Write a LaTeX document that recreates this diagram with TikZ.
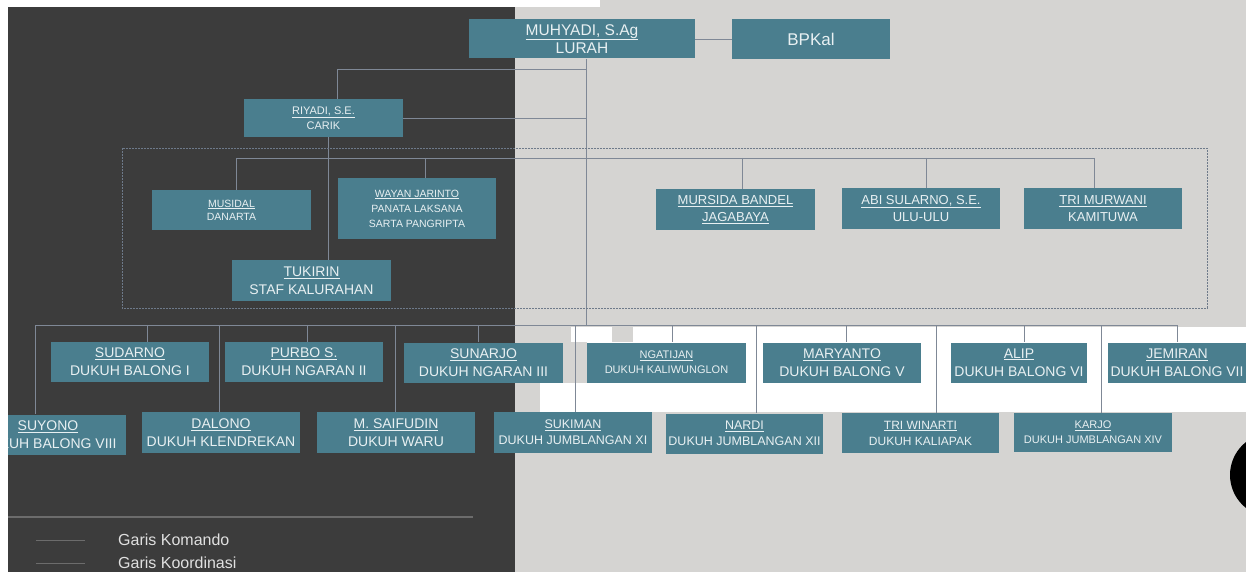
\documentclass[tikz,border=0pt]{standalone}
\usepackage{fontspec}
\setmainfont{Liberation Sans}
\usepackage{tikz}

\definecolor{latargelap}{HTML}{3C3C3C}
\definecolor{latarterang}{HTML}{D5D4D2}
\definecolor{kotak}{HTML}{4A7E8E}
\definecolor{tulisan}{HTML}{E8F0F2}
\definecolor{abugaris}{HTML}{7F8896}
\definecolor{abubingkai}{HTML}{6E7A8A}
\definecolor{abulegenda}{HTML}{6C6C6C}

\begin{document}
\begin{tikzpicture}
[every node/.style={inner sep=0pt},
 jabatan/.style={rectangle, fill=kotak, text=tulisan, align=center},
 garis/.style={line width=0.8pt, color=abugaris},
 bingkai/.style={line width=0.8pt, color=abubingkai, dash pattern=on 2pt off 1pt},
 legenda/.style={anchor=west, text=white!88!black, font=\fontsize{16}{18}\selectfont}]
\useasboundingbox (0pt, 0pt) rectangle (1246pt, -572pt);
% latar
\fill [latarterang] (0pt, 0pt) rectangle (1246pt, -572pt);
\fill [latargelap] (8pt, -7pt) rectangle (515pt, -572pt);
\fill [white] (571pt, -327pt) rectangle (612pt, -342pt);
\fill [white] (633pt, -327pt) rectangle (1246pt, -342pt);
\fill [white] (587pt, -342pt) rectangle (1246pt, -383pt);
\fill [white] (540pt, -383pt) rectangle (1246pt, -412pt);
\fill [black] (1272pt, -475pt) circle (42pt);
% pimpinan
\node (lurah) [jabatan, minimum width=226pt, minimum height=39pt, font=\fontsize{15.5}{18.5}\selectfont] at (582pt, -39pt) {\underline{MUHYADI, S.Ag}\\LURAH};
\node (bpkal) [jabatan, minimum width=158pt, minimum height=40pt, font=\fontsize{17}{19}\selectfont] at (811pt, -39pt) {BPKal};
\node (carik) [jabatan, minimum width=159pt, minimum height=38pt, font=\fontsize{11}{15}\selectfont] at (323.5pt, -118pt) {\underline{RIYADI, S.E.}\\CARIK};
% staf carik
\node (danarta) [jabatan, minimum width=159pt, minimum height=40pt, font=\fontsize{10.5}{13}\selectfont] at (231.5pt, -210pt) {\underline{MUSIDAL}\\DANARTA};
\node (panata) [jabatan, minimum width=158pt, minimum height=61pt, font=\fontsize{10.5}{15}\selectfont] at (417pt, -208.5pt) {\underline{WAYAN JARINTO}\\PANATA LAKSANA\\SARTA PANGRIPTA};
\node (staf) [jabatan, minimum width=159pt, minimum height=41pt, font=\fontsize{14}{18}\selectfont] at (311.5pt, -280.5pt) {\underline{TUKIRIN}\\STAF KALURAHAN};
\node (jagabaya) [jabatan, minimum width=159pt, minimum height=41pt, font=\fontsize{13}{17}\selectfont] at (735.5pt, -209.5pt) {\underline{MURSIDA BANDEL}\\\underline{JAGABAYA}};
\node (ulu) [jabatan, minimum width=158pt, minimum height=41pt, font=\fontsize{13}{17}\selectfont] at (921pt, -208.5pt) {\underline{ABI SULARNO, S.E.}\\ULU-ULU};
\node (kamituwa) [jabatan, minimum width=158pt, minimum height=41pt, font=\fontsize{13}{17}\selectfont] at (1103pt, -208.5pt) {\underline{TRI MURWANI}\\KAMITUWA};
% dukuh baris 1
\node (balong1) [jabatan, minimum width=158pt, minimum height=40pt, font=\fontsize{14}{18}\selectfont] at (130pt, -362pt) {\underline{SUDARNO}\\DUKUH BALONG I};
\node (ngaran2) [jabatan, minimum width=158pt, minimum height=40pt, font=\fontsize{14}{18}\selectfont] at (304pt, -362pt) {\underline{PURBO S.}\\DUKUH NGARAN II};
\node (ngaran3) [jabatan, minimum width=159pt, minimum height=40pt, font=\fontsize{14}{18}\selectfont] at (483.5pt, -362.5pt) {\underline{SUNARJO}\\DUKUH NGARAN III};
\node (kaliwunglon) [jabatan, minimum width=159pt, minimum height=40pt, font=\fontsize{11}{15}\selectfont] at (666.5pt, -362.5pt) {\underline{NGATIJAN}\\DUKUH KALIWUNGLON};
\node (balong5) [jabatan, minimum width=158pt, minimum height=40pt, font=\fontsize{14}{18}\selectfont] at (842pt, -362.5pt) {\underline{MARYANTO}\\DUKUH BALONG V};
\node (balong6) [jabatan, minimum width=136pt, minimum height=40pt, font=\fontsize{14}{18}\selectfont] at (1019pt, -362.5pt) {\underline{ALIP}\\DUKUH BALONG VI};
\node (balong7) [jabatan, minimum width=138pt, minimum height=40pt, font=\fontsize{14}{18}\selectfont] at (1177pt, -362.5pt) {\underline{JEMIRAN}\\DUKUH BALONG VII};
% dukuh baris 2
\node (balong8) [jabatan, minimum width=156pt, minimum height=40pt, font=\fontsize{14}{18}\selectfont] at (48pt, -434.5pt) {\underline{SUYONO}\\DUKUH BALONG VIII};
\node (klendrekan) [jabatan, minimum width=158pt, minimum height=41pt, font=\fontsize{14}{18}\selectfont] at (221pt, -432.5pt) {\underline{DALONO}\\DUKUH KLENDREKAN};
\node (waru) [jabatan, minimum width=158pt, minimum height=41pt, font=\fontsize{14}{18}\selectfont] at (396pt, -432.5pt) {\underline{M. SAIFUDIN}\\DUKUH WARU};
\node (jumblangan11) [jabatan, minimum width=158pt, minimum height=41pt, font=\fontsize{12.5}{16}\selectfont] at (573pt, -432.5pt) {\underline{SUKIMAN}\\DUKUH JUMBLANGAN XI};
\node (jumblangan12) [jabatan, minimum width=157pt, minimum height=40pt, font=\fontsize{12.5}{16}\selectfont] at (744.5pt, -433.5pt) {\underline{NARDI}\\DUKUH JUMBLANGAN XII};
\node (kaliapak) [jabatan, minimum width=157pt, minimum height=40pt, font=\fontsize{12}{16}\selectfont] at (920.5pt, -433pt) {\underline{TRI WINARTI}\\DUKUH KALIAPAK};
\node (jumblangan14) [jabatan, minimum width=158pt, minimum height=39pt, font=\fontsize{11}{15}\selectfont] at (1093pt, -432.5pt) {\underline{KARJO}\\DUKUH JUMBLANGAN XIV};
% titik bantu
\coordinate (cabang) at (337pt, -69pt);
\coordinate (bus) at (586pt, -325pt);
\coordinate (busstaf) at (586pt, -158pt);
% garis komando
\draw [garis] (lurah.east) -- (bpkal.west);
\draw [garis] (lurah.south -| bus) -- (bus);
\draw [garis] (cabang -| bus) -- (cabang) -- (cabang |- carik.north);
\draw [garis] (carik.east) -- (carik.east -| bus);
\draw [garis] ([xshift=5pt]carik.south) -- ([xshift=5pt]carik.south |- staf.north);
\draw [garis] ([xshift=5pt]danarta.north |- busstaf) -- ([xshift=-9pt]kamituwa.north |- busstaf);
\draw [garis] ([xshift=5pt]danarta.north |- busstaf) -- ([xshift=5pt]danarta.north);
\draw [garis] ([xshift=8pt]panata.north |- busstaf) -- ([xshift=8pt]panata.north);
\draw [garis] ([xshift=7pt]jagabaya.north |- busstaf) -- ([xshift=7pt]jagabaya.north);
\draw [garis] ([xshift=5pt]ulu.north |- busstaf) -- ([xshift=5pt]ulu.north);
\draw [garis] ([xshift=-9pt]kamituwa.north |- busstaf) -- ([xshift=-9pt]kamituwa.north);
\draw [bingkai] (122pt, -148pt) rectangle (1207pt, -308pt);
\draw [garis] ([xshift=-13pt]balong8.north |- bus) -- (balong7.north |- bus);
\draw [garis] ([xshift=17pt]balong1.north |- bus) -- ([xshift=17pt]balong1.north);
\draw [garis] ([xshift=3pt]ngaran2.north |- bus) -- ([xshift=3pt]ngaran2.north);
\draw [garis] ([xshift=-5pt]ngaran3.north |- bus) -- ([xshift=-5pt]ngaran3.north);
\draw [garis] ([xshift=6pt]kaliwunglon.north |- bus) -- ([xshift=6pt]kaliwunglon.north);
\draw [garis] ([xshift=4pt]balong5.north |- bus) -- ([xshift=4pt]balong5.north);
\draw [garis] ([xshift=5pt]balong6.north |- bus) -- ([xshift=5pt]balong6.north);
\draw [garis] (balong7.north |- bus) -- (balong7.north);
\draw [garis] ([xshift=-13pt]balong8.north |- bus) -- ([xshift=-13pt]balong8.north);
\draw [garis] ([xshift=-2pt]klendrekan.north |- bus) -- ([xshift=-2pt]klendrekan.north);
\draw [garis] ([xshift=-1pt]waru.north |- bus) -- ([xshift=-1pt]waru.north);
\draw [garis] ([xshift=2pt]jumblangan11.north |- bus) -- ([xshift=2pt]jumblangan11.north);
\draw [garis] ([xshift=12pt]jumblangan12.north |- bus) -- ([xshift=12pt]jumblangan12.north);
\draw [garis] ([xshift=16pt]kaliapak.north |- bus) -- ([xshift=16pt]kaliapak.north);
\draw [garis] ([xshift=8pt]jumblangan14.north |- bus) -- ([xshift=8pt]jumblangan14.north);
% legenda
\draw [line width=2pt, color=abulegenda] (8pt, -517pt) -- (473pt, -517pt);
\node (komando) [legenda] at (118pt, -540pt) {Garis Komando};
\node (koordinasi) [legenda] at (118pt, -563pt) {Garis Koordinasi};
\draw [line width=1pt, color=abulegenda] ([xshift=-82pt]komando.west) -- ([xshift=-33pt]komando.west);
\draw [line width=1pt, color=abulegenda] ([xshift=-82pt]koordinasi.west) -- ([xshift=-33pt]koordinasi.west);
% tepi layar
\fill [white] (0pt, 0pt) rectangle (8pt, -572pt);
\fill [white] (0pt, 0pt) rectangle (600pt, -7pt);
\end{tikzpicture}
\end{document}
